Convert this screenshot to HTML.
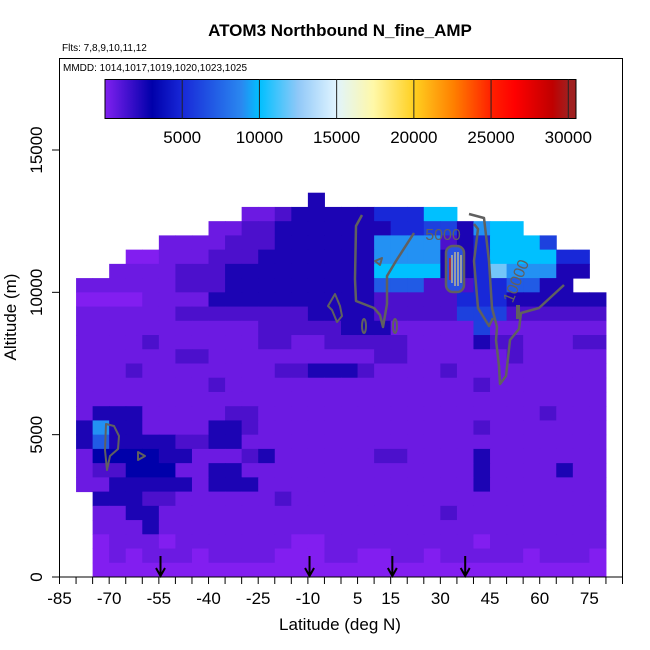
<!DOCTYPE html>
<html><head><meta charset="utf-8"><style>
html,body{margin:0;padding:0;background:#fff;}
svg{display:block;font-family:"Liberation Sans",sans-serif;}
</style></head><body>
<svg id="chart" width="650" height="650" viewBox="0 0 650 650">
<defs>
<linearGradient id="cbar" x1="0" x2="1" y1="0" y2="0">
<stop offset="0" stop-color="#8020f0"/>
<stop offset="0.1" stop-color="#0000aa"/>
<stop offset="0.164" stop-color="#1828d8"/>
<stop offset="0.29" stop-color="#2a88f0"/>
<stop offset="0.328" stop-color="#00c0ff"/>
<stop offset="0.41" stop-color="#90c8f8"/>
<stop offset="0.49" stop-color="#e0f4ff"/>
<stop offset="0.57" stop-color="#fff8a8"/>
<stop offset="0.656" stop-color="#ffd020"/>
<stop offset="0.74" stop-color="#ff8000"/>
<stop offset="0.82" stop-color="#ff2000"/>
<stop offset="0.87" stop-color="#ff0000"/>
<stop offset="0.95" stop-color="#c00000"/>
<stop offset="0.985" stop-color="#a02020"/>
<stop offset="1" stop-color="#a02020"/>
</linearGradient>
</defs>
<text x="340" y="36" text-anchor="middle" font-size="17" font-weight="bold">ATOM3 Northbound N_fine_AMP</text>
<text x="62" y="51" font-size="10">Flts: 7,8,9,10,11,12</text>
<g id="heat"></g>
<g id="contours" fill="none" stroke="#606060" stroke-width="2.5" stroke-linejoin="round">
<path d="M362,215 L356,226 L355,279 L356,301 L374,308 L380,315 L383,327 L387,304 L387,276 L396,261 L414,233"/>
<path d="M469,214 L484,218 L489,261 L492,308 L497,327 L496,340 L499,366 L500,384 L506,376 L510,340 L519,329 L521,313 L539,308 L564,285"/>
<path d="M474,224 L478,229 L474,261 L478,308 L489,326 L493,318"/>
<path d="M375,261 L382,258 L380,265 Z" stroke-width="2"/>
<path d="M335,294 L340,306 L342,316 L337,322 L332,310 L328,306 Z" stroke-width="2"/>
<ellipse cx="364" cy="326" rx="2" ry="7" stroke-width="2"/>
<ellipse cx="395" cy="326" rx="2" ry="7" stroke-width="2"/>
<rect x="446" y="246" width="18" height="46" rx="7" fill="#2a50e0"/>
<path d="M452,255 L452,283 M455,252 L455,286 M458,252 L458,286 M461,255 L461,283" stroke-width="1.2" stroke="#e0d080"/>
<path d="M450,258 L450,280" stroke="#d02010" stroke-width="1.5"/>
<path d="M106,424 L114,426 L119,436 L118,449 L110,456 L107,470 L105,450 Z" stroke-width="2"/>
<path d="M138,452 L145,456 L138,460 Z" stroke-width="2"/>
<rect x="516" y="305" width="4" height="14" fill="#606060" stroke="none"/>
<text x="443" y="240" text-anchor="middle" font-size="16" fill="#606060" stroke="none">5000</text>
<text x="521" y="283" text-anchor="middle" font-size="16" fill="#606060" stroke="none" transform="rotate(-68 521 283)">10000</text>
</g>
<rect x="59.5" y="58.5" width="563" height="518.5" fill="none" stroke="#000" stroke-width="1"/>
<text x="63" y="71" font-size="10">MMDD: 1014,1017,1019,1020,1023,1025</text>
<g id="colorbar"></g>
<g id="arrows"></g>
<g id="xaxis"></g>
<g id="yaxis"></g>
<text x="340" y="630" text-anchor="middle" font-size="17">Latitude (deg N)</text>
<text x="0" y="0" text-anchor="middle" font-size="17" transform="translate(16,317) rotate(-90)">Altitude (m)</text>
</svg>
<script>
// Grid data: rows from 13000-13500 m down to 0-500 m, 5-degree latitude bins from -80 to 80.
// Each char = value in thousands (base-36 digit), '.' = no data.
const latEdges0 = -80;
const latStep = 5;
const altStep = 500;
const gridRows = [
"..............3.................",
"..........11233333555AA.........",
"........11223333333556639AA.....",
".....11112223333339999235AAA6...",
"...0011122233333339999335AAAA55.",
"..1111222333333333AAAA335C99933.",
"111111222333333333777222557733..",
"00001111333333333322222555333333",
"11111122222222333322222666222222",
"11111111111222223331111161111111",
"11112111111221122222111132211122",
"11111122111111111122111111211111",
"11121111111122333211112111111111",
"11111111211111111111111121111111",
"11111111111111111111111111111111",
"13331111122111111111111111112111",
"39331111332111111111111121111111",
"37333322331111111111111111111111",
"14444331112311111122111131111111",
"12244411331111111111111131111311",
"11333331333111111111111131111111",
".3332211111121111111111111111111",
".1133111111111111111112111111111",
".1113111111111111111111111111111",
".0111011111110011111111101111111",
".0101110111100011001101111101110",
".0000000000000000000000000000000"
];
const xTickLabels = [-85,-70,-55,-40,-25,-10,5,15,30,45,60,75];
const yTickLabels = [0,5000,10000,15000];
const cbarTickLabels = [5000,10000,15000,20000,25000,30000];
const arrowLats = [-54.5,-9.5,15.5,37.5];

const NS="http://www.w3.org/2000/svg";
const xs = lat => 59.5 + (lat + 85) * (563 / 170);
const ys = alt => 577 - alt * 0.028467;
const cbX = v => 105 + v * (471 / 30500);

const stops = [[0,[130,30,240]],[1000,[108,26,226]],[2000,[76,16,204]],[3000,[28,4,180]],[4000,[0,0,170]],[5000,[24,40,216]],[8800,[42,136,240]],[10000,[0,192,255]],[12500,[144,200,248]],[15000,[224,244,255]],[17400,[255,248,168]],[20000,[255,208,32]],[22600,[255,128,0]],[25000,[255,32,0]],[26500,[255,0,0]],[29000,[192,0,0]],[30500,[160,32,32]]];
function colorOf(v){
  for(let i=0;i<stops.length-1;i++){
    const a=stops[i],b=stops[i+1];
    if(v<=b[0]){const t=(v-a[0])/(b[0]-a[0]);return 'rgb('+a[1].map((c,k)=>Math.round(c+(b[1][k]-c)*t)).join(',')+')';}
  }
  return 'rgb(160,32,32)';
}
const heat=document.getElementById('heat');
const nRows=gridRows.length;
gridRows.forEach((row,ri)=>{
  const altLo=(nRows-1-ri)*altStep;
  for(let ci=0;ci<row.length;ci++){
    const ch=row[ci]; if(ch==='.')continue;
    const v=parseInt(ch,36)*1000;
    const lat0=latEdges0+ci*latStep;
    const r=document.createElementNS(NS,'rect');
    r.setAttribute('x',xs(lat0));
    r.setAttribute('y',ys(altLo+altStep));
    r.setAttribute('width',xs(lat0+latStep)-xs(lat0)+0.5);
    r.setAttribute('height',ys(altLo)-ys(altLo+altStep)+0.5);
    r.setAttribute('fill',colorOf(v));
    
    
    heat.appendChild(r);
  }
});
// colorbar
const cb=document.getElementById('colorbar');
const cr=document.createElementNS(NS,'rect');
cr.setAttribute('x',105);cr.setAttribute('y',79.5);cr.setAttribute('width',471);cr.setAttribute('height',39);
cr.setAttribute('fill','url(#cbar)');cr.setAttribute('stroke','#000');


cb.appendChild(cr);
cbarTickLabels.forEach(v=>{
  const l=document.createElementNS(NS,'line');
  l.setAttribute('x1',cbX(v));l.setAttribute('x2',cbX(v));l.setAttribute('y1',79.5);l.setAttribute('y2',118.5);l.setAttribute('stroke','#222');
  
  
  cb.appendChild(l);
  const t=document.createElementNS(NS,'text');
  t.setAttribute('x',cbX(v));t.setAttribute('y',143);t.setAttribute('text-anchor','middle');t.setAttribute('font-size','17');
  t.textContent=v;
  
  
  cb.appendChild(t);
});
// x axis
const xa=document.getElementById('xaxis');
for(let lat=-85;lat<=85;lat+=5){
  const l=document.createElementNS(NS,'line');
  l.setAttribute('x1',xs(lat));l.setAttribute('x2',xs(lat));l.setAttribute('y1',577);l.setAttribute('y2',584);l.setAttribute('stroke','#000');
  
  
  xa.appendChild(l);
}
xTickLabels.forEach(v=>{
  const t=document.createElementNS(NS,'text');
  t.setAttribute('x',xs(v));t.setAttribute('y',604);t.setAttribute('text-anchor','middle');t.setAttribute('font-size','17');
  t.textContent=v;
  
  
  xa.appendChild(t);
});
// y axis
const ya=document.getElementById('yaxis');
yTickLabels.forEach(v=>{
  const l=document.createElementNS(NS,'line');
  l.setAttribute('x1',52);l.setAttribute('x2',59.5);l.setAttribute('y1',ys(v));l.setAttribute('y2',ys(v));l.setAttribute('stroke','#000');
  
  
  ya.appendChild(l);
  const t=document.createElementNS(NS,'text');
  t.setAttribute('text-anchor','middle');t.setAttribute('font-size','17');
  t.setAttribute('transform','translate(42,'+ys(v)+') rotate(-90)');
  t.textContent=v;
  
  
  ya.appendChild(t);
});
// arrows
const ar=document.getElementById('arrows');
arrowLats.forEach(lat=>{
  const x=xs(lat);
  const p=document.createElementNS(NS,'path');
  p.setAttribute('d','M'+x+',556 L'+x+',576 M'+(x-4.5)+',568 L'+x+',576 L'+(x+4.5)+',568');
  p.setAttribute('stroke','#000');p.setAttribute('stroke-width','2');p.setAttribute('fill','none');
  
  
  ar.appendChild(p);
});
</script>
</body></html>
